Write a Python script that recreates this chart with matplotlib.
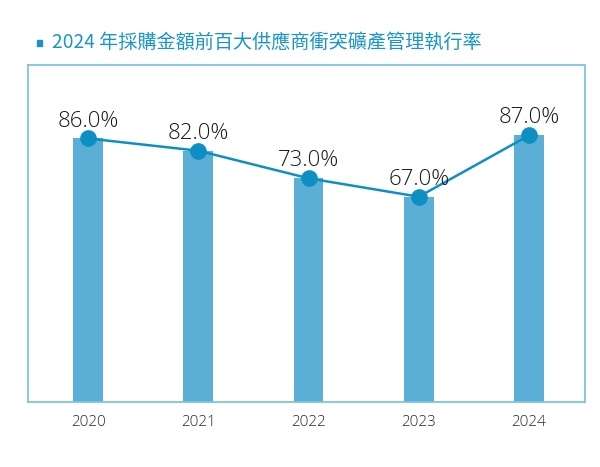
import numpy as np
import matplotlib.pyplot as plt
from matplotlib.patches import Rectangle

# data
years = ['2020', '2021', '2022', '2023', '2024']
rates = [86.0, 82.0, 73.0, 67.0, 87.0]
labels = ['86.0%', '82.0%', '73.0%', '67.0%', '87.0%']
title = '2024 年採購金額前百大供應商衝突礦產管理執行率'

bar_color = '#5BAFD6'
line_color = '#0E8FC4'
title_color = '#1A95C8'

fig = plt.figure(figsize=(6, 4.67), dpi=100)
ax = fig.add_axes([0.047, 0.139, 0.928, 0.722])

x = np.arange(len(years))
ax.bar(x, rates, width=0.27, color=bar_color, zorder=1)
ax.plot(x, rates, color=line_color, lw=1.8, marker='o', ms=11, zorder=2)

for xi, v, lab in zip(x, rates, labels):
    ax.annotate(lab, (xi, v), xytext=(0, 5), textcoords='offset points',
                ha='center', va='bottom', fontsize=16, color='#1a1a1a',
                family='Open Sans', weight='light')

ax.set_xlim(-0.544, 4.508)
ax.set_ylim(0, 110)
ax.set_xticks(x)
ax.set_xticklabels(years, family='Open Sans', weight='light',
                   fontsize=11, color='#2a2a2a')
ax.tick_params(axis='x', length=0, pad=9)
ax.set_yticks([])
for s in ax.spines.values():
    s.set_color('#7CC4E4')
    s.set_linewidth(1.3)

# title with square bullet
fig.patches.append(Rectangle((37 / 600, 1 - 46 / 467), 5 / 600, 6 / 467,
                             transform=fig.transFigure, color=title_color))
fig.text(52 / 600, 1 - 42 / 467, title, fontsize=13.8, color=title_color,
         family=['Noto Sans CJK TC', 'DejaVu Sans'], weight='light',
         va='center', ha='left')

fig.savefig('out.png', dpi=100)
